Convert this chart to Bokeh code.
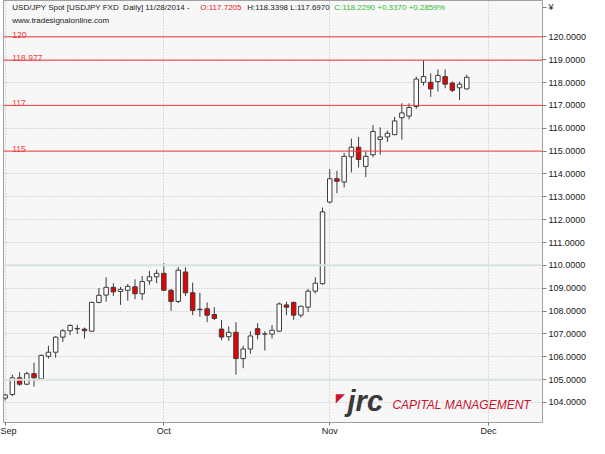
from bokeh.plotting import figure
from bokeh.models import (ColumnDataSource, Range1d, FixedTicker, PrintfTickFormatter,
                          Span, Label)
from bokeh.embed import file_html
from bokeh.resources import INLINE

# ---------------- data ----------------
opens = [104.19, 104.35, 105.08, 104.80, 105.26, 105.03, 106.02, 106.20, 106.86, 107.14,
         107.22, 107.21, 107.12, 108.38, 108.70, 109.04, 108.86, 108.91, 109.06, 108.76,
         109.32, 109.50, 109.65, 108.91, 108.42, 109.71, 108.80, 108.08, 108.10, 107.85,
         107.21, 106.88, 107.07, 105.92, 106.34, 107.23, 106.99, 106.99, 107.12, 108.27,
         108.38, 107.82, 108.17, 108.87, 109.20, 112.77, 113.79, 113.65, 114.75, 115.17,
         114.33, 114.84, 115.51, 115.62, 115.72, 116.46, 116.53, 116.95, 118.01, 118.01,
         118.04, 118.26, 117.98, 117.77, 117.7205]
highs = [104.38, 105.22, 105.32, 105.35, 105.74, 106.10, 106.48, 106.90, 107.21, 107.42,
         107.40, 107.28, 108.41, 109.01, 109.48, 109.22, 109.06, 109.19, 109.39, 109.53,
         109.76, 109.81, 110.09, 108.97, 109.92, 109.92, 109.25, 108.80, 108.38, 108.17,
         107.61, 107.33, 107.51, 106.48, 107.12, 107.47, 107.12, 107.39, 108.38, 108.41,
         108.41, 108.24, 108.97, 109.48, 112.53, 114.21, 114.14, 114.92, 115.55, 115.62,
         114.98, 116.14, 116.04, 115.90, 116.50, 117.09, 117.09, 118.26, 118.977, 118.40,
         118.57, 118.57, 118.04, 118.04, 118.3398]
lows = [104.09, 104.28, 104.73, 104.76, 104.70, 105.01, 105.92, 105.96, 106.65, 106.95,
        107.00, 106.80, 107.08, 108.34, 108.41, 108.66, 108.27, 108.45, 108.52, 108.49,
        109.15, 109.22, 108.87, 108.01, 108.35, 108.66, 107.82, 107.75, 107.51, 107.61,
        106.72, 106.70, 105.22, 105.50, 106.13, 106.76, 106.27, 106.80, 107.09, 107.82,
        107.61, 107.71, 107.96, 108.77, 109.15, 112.71, 113.16, 113.41, 114.07, 114.28,
        113.86, 114.73, 114.84, 115.40, 115.69, 115.50, 116.39, 116.85, 117.87, 117.37,
        117.61, 117.75, 117.58, 117.23, 117.6970]
closes = [104.33, 105.08, 104.80, 105.26, 105.08, 106.06, 106.20, 106.86, 107.14, 107.37,
          107.24, 107.14, 108.38, 108.69, 109.04, 108.84, 108.95, 109.08, 108.76, 109.29,
          109.50, 109.65, 108.91, 108.42, 109.79, 108.80, 108.03, 108.06, 107.82, 107.68,
          106.86, 107.07, 105.92, 106.34, 106.91, 106.97, 107.00, 107.16, 108.31, 108.17,
          107.82, 108.21, 108.87, 109.22, 112.34, 113.79, 113.68, 114.77, 115.17, 114.63,
          114.77, 115.86, 115.62, 115.78, 116.32, 116.67, 116.91, 118.15, 118.26, 117.72,
          118.31, 117.93, 117.66, 117.93, 118.2290]

month_labels = ["Sep", "Oct", "Nov", "Dec"]
month_index = [0, 22, 45, 67]          # bar index of first trading day of the month
price_ticks = list(range(104, 121))
currency_tick = 121.3                  # where the currency sign sits on the price axis
currency_label = "¥"
level_values = [120, 118.977, 117, 115]
level_labels = ["120", "118.977", "117", "115"]
gray_levels = [105, 110]

header_parts = ["USD/JPY Spot [USDJPY FXD\u00a0 Daily] 11/28/2014 - ",
                "O:117.7205", "H:118.3398 L:117.6970", "C:118.2290 +0.3370 +0.2859%"]

# ---------------- helpers: reference pixel -> data ----------------
XA, XS = 4.7, 7.40      # px of bar 0, px per bar
YA, YS = 37.7, 23.72    # px of 120, px per unit


def xd(px):
    return (px - XA) / XS


def yd(py):
    return 120 - (py - YA) / YS


FONT = "Liberation Sans"
RED_LINE = "#ef3b3b"

n = len(opens)
xs = list(range(n))
tops = [max(o, c) for o, c in zip(opens, closes)]
bottoms = [min(o, c) for o, c in zip(opens, closes)]
colors = ["#ffffff" if c >= o else "#e80000" for o, c in zip(opens, closes)]
src = ColumnDataSource(dict(x=xs, open=opens, high=highs, low=lows, close=closes,
                            top=tops, bottom=bottoms, color=colors))

p = figure(width=589, height=438, output_backend="svg", toolbar_location=None,
           x_range=Range1d(xd(3), xd(556)), y_range=Range1d(yd(438), yd(0)),
           y_axis_location="right", min_border_left=3, min_border_right=46,
           min_border_top=0, min_border_bottom=15,
           background_fill_color="#f7f7f7", border_fill_color="white",
           outline_line_color="#a0a0a0", outline_line_width=1)

# grids
p.ygrid.ticker = FixedTicker(ticks=price_ticks)
p.ygrid.grid_line_color = "#bcbcbc"
p.ygrid.grid_line_dash = "1 2"
p.xgrid.ticker = FixedTicker(ticks=month_index)
p.xgrid.grid_line_color = "#bcbcbc"
p.xgrid.grid_line_dash = "1 2"

for lv in gray_levels:
    p.add_layout(Span(location=lv, dimension="width", line_color="#dae3da", line_width=2))
for lv, lab in zip(level_values, level_labels):
    p.add_layout(Span(location=lv, dimension="width", line_color=RED_LINE, line_width=1))
    p.add_layout(Label(x=xd(12), y=lv + 2.3 / YS, text=lab, text_font=FONT,
                       text_font_size="8.5px", text_color=RED_LINE,
                       text_baseline="alphabetic"))

# right axis
ya = p.yaxis[0]
ya.ticker = FixedTicker(ticks=price_ticks + [currency_tick])
ya.formatter = PrintfTickFormatter(format="%.4f")
ya.major_label_overrides = {currency_tick: currency_label}
ya.major_label_text_font = FONT
ya.major_label_text_font_size = "9px"
ya.major_label_text_color = "#202020"
ya.major_tick_out = 4
ya.major_tick_in = 0
ya.minor_tick_out = 0
ya.minor_tick_in = 0
ya.major_tick_line_color = "#808080"
ya.axis_line_color = None
ya.major_label_standoff = 2

# bottom axis
xa = p.xaxis[0]
xa.ticker = FixedTicker(ticks=month_index)
xa.major_label_overrides = {i: m for i, m in zip(month_index, month_labels)}
xa.major_label_text_align = "left"
xa.major_label_text_font = FONT
xa.major_label_text_font_size = "9px"
xa.major_label_text_color = "#202020"
xa.major_tick_out = 3
xa.major_tick_in = 0
xa.minor_tick_out = 0
xa.minor_tick_in = 0
xa.major_tick_line_color = "#707070"
xa.axis_line_color = None
xa.major_label_standoff = 0

# candles
p.segment(x0="x", y0="low", x1="x", y1="high", source=src, line_color="#3c3c3c", line_width=1)
p.vbar(x="x", width=0.62, top="top", bottom="bottom", source=src,
       fill_color="color", line_color="#3c3c3c", line_width=1)

# header (segments placed by screen offsets from a common anchor)
h_off = [0, 188, 235, 322]
hc = ["#202020", "#e82020", "#202020", "#2dbb2d"]
for t, off, col in zip(header_parts, h_off, hc):
    p.add_layout(Label(x=xd(12), y=yd(7.5), x_offset=off, text=t, text_font=FONT,
                       text_font_size="8px", text_color=col, text_baseline="middle"))
p.add_layout(Label(x=xd(12), y=yd(20.5), text="www.tradesignalonline.com", text_font=FONT,
                   text_font_size="8px", text_color="#202020", text_baseline="middle"))

# logo
p.add_layout(Label(x=xd(344), y=yd(413), text="◤", text_font="DejaVu Sans",
                   text_font_size="12px", text_color="#d0142c", text_baseline="alphabetic"))
p.add_layout(Label(x=xd(356), y=yd(416), text="jrc", text_font=FONT, text_font_size="29px",
                   text_font_style="bold italic", text_color="#3a3a3a",
                   text_baseline="alphabetic"))
p.add_layout(Label(x=xd(402), y=yd(420), text="CAPITAL MANAGEMENT",
                   text_font=FONT, text_font_size="12px",
                   text_font_style="italic", text_color="#c8142e", text_baseline="alphabetic"))

open("out.html", "w").write(file_html(p, INLINE))
